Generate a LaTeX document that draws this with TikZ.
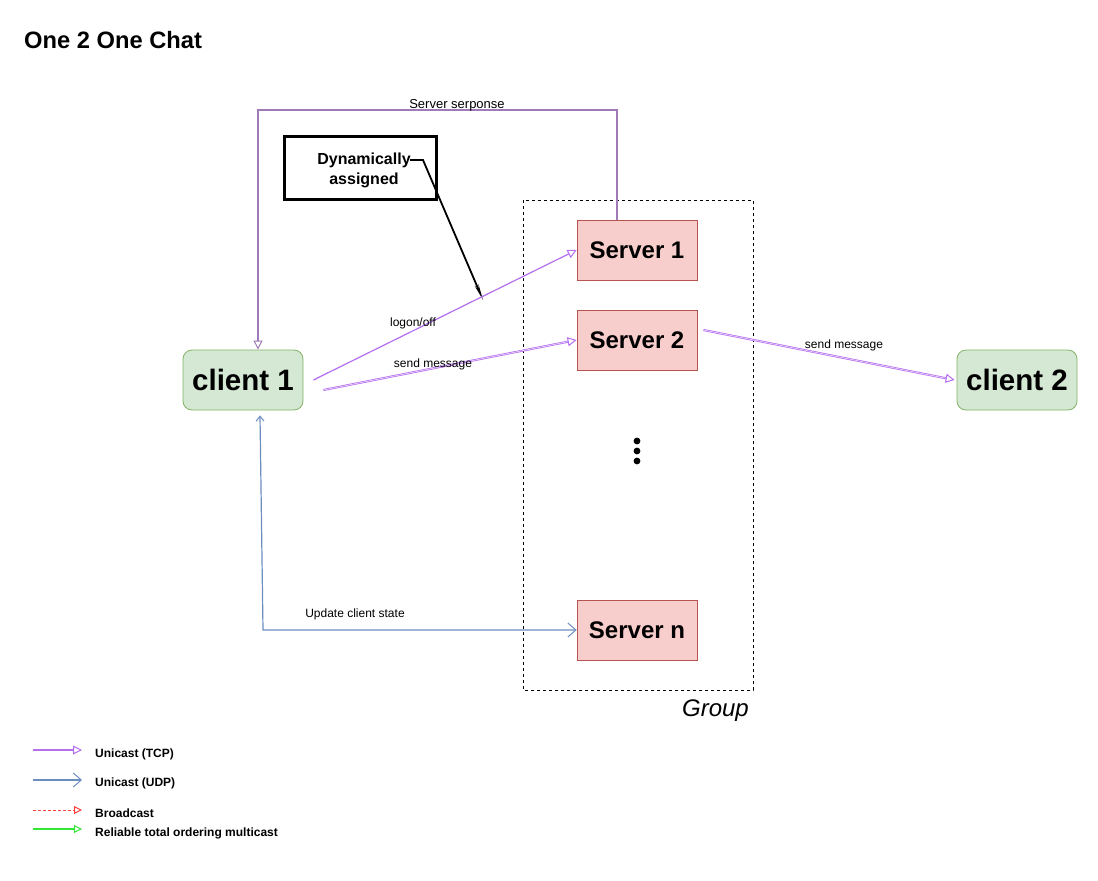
\documentclass[tikz,border=0pt]{standalone}
\usepackage{fontspec}
\setmainfont{Liberation Sans}
\usetikzlibrary{arrows.meta,calc}
\definecolor{srvF}{HTML}{F8CECC}
\definecolor{srvB}{HTML}{B85450}
\definecolor{cliF}{HTML}{D5E8D4}
\definecolor{cliB}{HTML}{82B366}
\definecolor{tcp}{HTML}{B46EF0}
\definecolor{resp}{HTML}{A07AB8}
\definecolor{udp}{HTML}{6C8EBF}
\definecolor{bcast}{HTML}{FF4040}
\definecolor{rtom}{HTML}{33E633}
\tikzset{
  srv/.style={draw=srvB, fill=srvF, line width=0.8pt, minimum width=120pt, minimum height=60pt, inner sep=0pt, font=\bfseries\fontsize{24}{28}\selectfont},
  cli/.style={draw=cliB, fill=cliF, line width=0.8pt, rounded corners=9pt, minimum width=120pt, minimum height=60pt, inner sep=0pt, font=\bfseries\fontsize{29.5}{34}\selectfont},
  lbl/.style={inner sep=0pt, font=\fontsize{12}{14}\selectfont},
  leg/.style={inner sep=0pt, anchor=west, font=\bfseries\fontsize{12}{14}\selectfont},
  tcparrow/.style={draw=tcp, line width=1.2pt, -{Triangle[open, length=9pt, width=9pt, line width=1pt]}},
  udparrow/.style={draw=udp, line width=1.2pt, -{Straight Barb[length=8pt, width=14pt, line width=1pt]}},
}
\begin{document}
\begin{tikzpicture}[x=1pt,y=-1pt]
\useasboundingbox (0,0) rectangle (1098,881);

% title
\node[inner sep=0pt, anchor=west, font=\bfseries\fontsize{23.7}{28}\selectfont] (title) at (24,40) {One 2 One Chat};

% group
\draw[dashed, line width=0.8pt] (523,200) rectangle (753,690);
\node[inner sep=0pt, anchor=east, font=\itshape\fontsize{24}{28}\selectfont] (grp) at (749,711) {Group};

% servers
\node[srv] (s1) at (637,250) {Server 1};
\node[srv] (s2) at (637,340) {Server 2};
\node[srv] (sn) at (637,630) {Server n};
\foreach \yy/\nm in {441/d1,451/d2,461/d3} \fill (637,\yy) circle (3.4pt) coordinate (\nm);

% clients
\node[cli] (c1) at (243,380) {client 1};
\node[cli] (c2) at (1017,380) {client 2};

% dynamically assigned
\node[draw, line width=3pt, minimum width=152pt, minimum height=63pt, inner sep=0pt] (dyn) at (360,167.5) {};
\node[inner sep=0pt, align=center, font=\bfseries\fontsize{16}{20}\selectfont] (dyntxt) at (364,170) {Dynamically\\assigned};
\coordinate (dk1) at (410,160);
\coordinate (dk2) at (423,160);
\coordinate (dk3) at (483,300);
\draw[line width=1.8pt, -{Stealth[length=16pt, width=4pt]}] (dk1) -- (dk2) -- (dk3);

% server response
\coordinate (r1) at ($(s1.north)+(-20,0)$);
\coordinate (r2) at (617,110);
\coordinate (r3) at (258,110);
\draw[draw=resp, line width=1.2pt, -{Triangle[open, length=9pt, width=9pt, line width=1pt]}]
  (r1) -- (r2) -- (r3) -- ($(c1.north)+(15,0)$);
\node[lbl, font=\fontsize{13}{15}\selectfont] (lresp) at (457,105) {Server serponse};

% logon/off
\draw[tcparrow] ($(c1.east)+(10,0)$) -- (s1.west);
\node[lbl] (llog) at (413,323) {logon/off};

% send message client1 -> server2
\draw[draw=tcp, double=white!70!tcp, double distance=0.7pt, line width=0.7pt, -{Triangle[open, length=9pt, width=9pt, line width=1pt]}]
  ($(c1.east)+(20,10)$) -- (s2.west);
\node[lbl] (lsend1) at (433,364) {send message};

% server2 -> client2
\draw[draw=tcp, double=white!70!tcp, double distance=0.7pt, line width=0.7pt, -{Triangle[open, length=9pt, width=9pt, line width=1pt]}]
  ($(s2.east)+(6,-10)$) -- ($(c2.west)+(-2,0)$);
\node[lbl] (lsend2) at (844,345) {send message};

% update client state
\coordinate (u1) at (263,630);
\draw[draw=udp, line width=1.2pt, {Straight Barb[length=5pt, width=8pt, line width=1pt]}-{Straight Barb[length=8pt, width=14pt, line width=1pt]}]
  ($(c1.south)+(17,5)$) -- (u1) -- (sn.west);
\node[lbl] (lupd) at (355,614) {Update client state};

% legend
\coordinate (la1) at (33,750); \coordinate (lb1) at (82,750);
\coordinate (la2) at (33,780); \coordinate (lb2) at (82,780);
\coordinate (la3) at (33,810); \coordinate (lb3) at (82,810);
\coordinate (la4) at (33,829); \coordinate (lb4) at (82,829);
\draw[tcparrow] (la1) -- (lb1);
\draw[udparrow] (la2) -- (lb2);
\draw[draw=bcast, line width=1pt, dash pattern=on 3pt off 2pt, -{Triangle[open, length=8pt, width=8pt, line width=1pt]}] (la3) -- (lb3);
\draw[draw=rtom, line width=1.4pt, -{Triangle[open, length=8pt, width=8pt, line width=1pt]}] (la4) -- (lb4);
\node[leg] (t1) at (95,754) {Unicast (TCP)};
\node[leg] (t2) at (95,783) {Unicast (UDP)};
\node[leg] (t3) at (95,813) {Broadcast};
\node[leg] (t4) at (95,833) {Reliable total ordering multicast};
\end{tikzpicture}
\end{document}
